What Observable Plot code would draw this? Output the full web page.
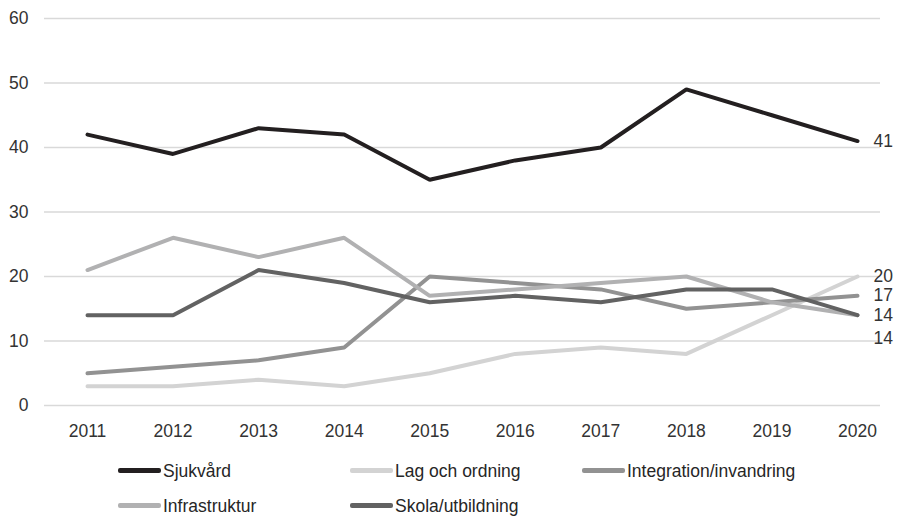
<!DOCTYPE html>
<html>
<head>
<meta charset="utf-8">
<script src="https://cdn.jsdelivr.net/npm/d3@7"></script>
<script src="https://cdn.jsdelivr.net/npm/@observablehq/plot@0.6"></script>
<style>
  html, body { margin: 0; padding: 0; background: #fff; }
  body { width: 897px; height: 516px; overflow: hidden; position: relative; font-family: "Liberation Sans", Arial, sans-serif; }
  #legend { position: absolute; left: 0; top: 453px; width: 897px; }
  .row { height: 35px; position: relative; }
  .item { position: absolute; top: 0; height: 35px; display: flex; align-items: center; font-size: 17.5px; line-height: 20px; color: #262626; }
  .sw { width: 43px; height: 4.5px; border-radius: 2px; margin-right: 2px; }
</style>
</head>
<body>
<div id="chart"></div>
<div id="legend"></div>
<script>
const years = [2011, 2012, 2013, 2014, 2015, 2016, 2017, 2018, 2019, 2020];
const seriesNames = ["Sjukvård", "Lag och ordning", "Integration/invandring", "Infrastruktur", "Skola/utbildning"];
const sjukvard = [42, 39, 43, 42, 35, 38, 40, 49, 45, 41];
const lagOchOrdning = [3, 3, 4, 3, 5, 8, 9, 8, 14, 20];
const integration = [5, 6, 7, 9, 20, 19, 18, 15, 16, 17];
const infrastruktur = [21, 26, 23, 26, 17, 18, 19, 20, 16, 14];
const skola = [14, 14, 21, 19, 16, 17, 16, 18, 18, 14];
const colors = ["#231f20", "#d3d3d3", "#929292", "#b1b1b2", "#626262"];
const yTicks = [0, 10, 20, 30, 40, 50, 60];

const allValues = [sjukvard, lagOchOrdning, integration, infrastruktur, skola];
const data = [];
seriesNames.forEach((s, i) => years.forEach((y, j) => data.push({series: s, year: String(y), value: allValues[i][j]})));
const last = seriesNames.map((s, i) => ({series: s, year: String(years[years.length - 1]), value: allValues[i][years.length - 1], shift: s === "Infrastruktur" ? 23 : 0}));

const plot = Plot.plot({
  width: 897,
  height: 445,
  marginTop: 18,
  marginBottom: 40,
  marginLeft: 44,
  marginRight: 17,
  insetLeft: 43,
  insetRight: 23,
  style: {fontFamily: "Liberation Sans, Arial, sans-serif", fontSize: "17.5px", color: "#333"},
  x: {type: "point", domain: years.map(String), padding: 0, round: false, label: null},
  y: {domain: [0, 60], ticks: yTicks, label: null},
  color: {domain: seriesNames, range: colors},
  marks: [
    Plot.gridY(yTicks, {stroke: "#d9d9d9", strokeOpacity: 1, strokeWidth: 1.3}),
    Plot.axisY({ticks: yTicks, tickSize: 0, tickPadding: 16, label: null, fill: "#333", fontSize: 17.5}),
    Plot.axisX({tickSize: 0, tickPadding: 19, label: null, fill: "#333", fontSize: 17.5}),
    Plot.line(data, {x: "year", y: "value", z: "series", stroke: "series", strokeWidth: 4, strokeLinecap: "round", strokeLinejoin: "miter"}),
    Plot.text(last.filter(d => d.shift === 0), {x: "year", y: "value", text: d => String(d.value), dx: 16, textAnchor: "start", fill: "#333", fontSize: 17.5}),
    Plot.text(last.filter(d => d.shift !== 0), {x: "year", y: "value", text: d => String(d.value), dx: 16, dy: 23, textAnchor: "start", fill: "#333", fontSize: 17.5})
  ]
});
document.getElementById("chart").appendChild(plot);

const legend = document.getElementById("legend");
const cols = [118, 350, 582];
const rows = [seriesNames.slice(0, 3), seriesNames.slice(3)];
rows.forEach(r => {
  const row = document.createElement("div");
  row.className = "row";
  r.forEach((s, k) => {
    const item = document.createElement("div");
    item.className = "item";
    item.style.left = cols[k] + "px";
    const sw = document.createElement("span");
    sw.className = "sw";
    sw.style.background = colors[seriesNames.indexOf(s)];
    item.appendChild(sw);
    item.appendChild(document.createTextNode(s));
    row.appendChild(item);
  });
  legend.appendChild(row);
});
</script>
</body>
</html>
